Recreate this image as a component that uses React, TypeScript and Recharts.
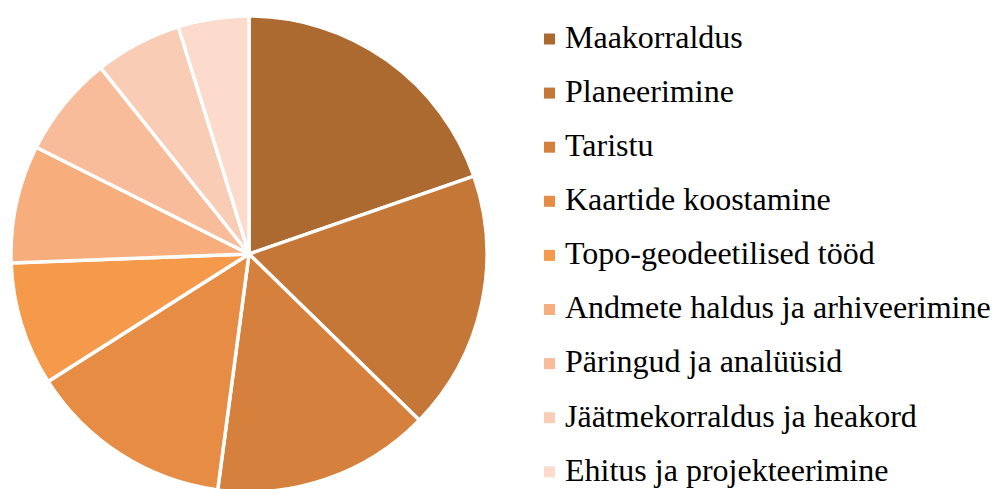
import { PieChart, Pie, Cell, Legend } from 'recharts';

const categories = [
  'Maakorraldus',
  'Planeerimine',
  'Taristu',
  'Kaartide koostamine',
  'Topo-geodeetilised tööd',
  'Andmete haldus ja arhiveerimine',
  'Päringud ja analüüsid',
  'Jäätmekorraldus ja heakord',
  'Ehitus ja projekteerimine',
];

const shares = [19.7, 17.6, 14.8, 13.9, 8.4, 8.0, 6.9, 5.9, 4.8];

const colours = [
  '#AD6A30',
  '#C47737',
  '#D5813D',
  '#E68C44',
  '#F5994A',
  '#F7AD7C',
  '#F9BC9B',
  '#F9CCB6',
  '#FCDACC',
];

const data = categories.map((name, i) => ({ name, value: shares[i] }));

const ROW_GAP = 54.1;

// legend keeps the data order (recharts sorts payload by name otherwise)
function LegendList() {
  return (
    <svg width={993} height={489} style={{ display: 'block' }}>
      {categories.map((name, i) => (
        <g key={name}>
          <rect x={544} y={33.5 + i * ROW_GAP} width={11} height={11} fill={colours[i]} />
          <text
            x={565}
            y={47.8 + i * ROW_GAP}
            fontFamily="'Liberation Serif', 'Times New Roman', serif"
            fontSize={32}
            fill="#000"
          >
            {name}
          </text>
        </g>
      ))}
    </svg>
  );
}

export default function App() {
  return (
    <div style={{ position: 'absolute', left: 0, top: 0, width: 993, height: 489, background: '#fff' }}>
      <PieChart width={993} height={489} margin={{ top: 0, right: 0, bottom: 0, left: 0 }}>
        <Pie
          data={data}
          dataKey="value"
          nameKey="name"
          cx={249}
          cy={254}
          outerRadius={238}
          startAngle={90}
          endAngle={-270}
          stroke="#fff"
          strokeWidth={3.5}
          isAnimationActive={false}
        >
          {data.map((d, i) => (
            <Cell key={d.name} fill={colours[i]} />
          ))}
        </Pie>
        <Legend
          content={<LegendList />}
          wrapperStyle={{ position: 'absolute', left: 0, top: 0, width: 993, height: 489, pointerEvents: 'none' }}
        />
      </PieChart>
    </div>
  );
}
